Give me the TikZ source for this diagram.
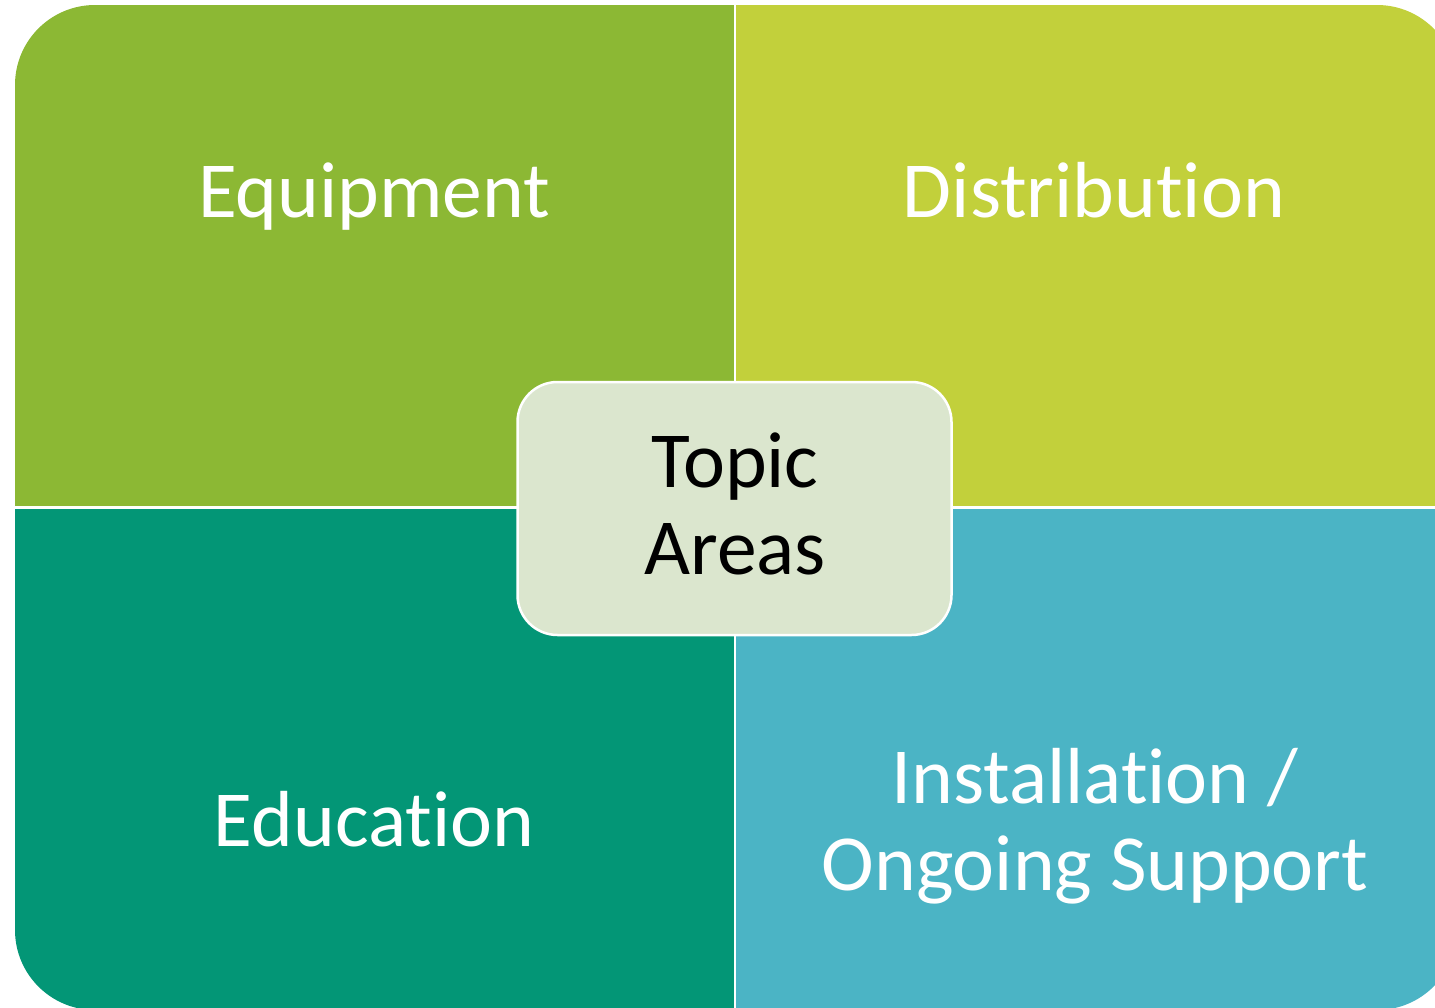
\documentclass[tikz,border=0pt]{standalone}
\usepackage{fontspec}
\setmainfont{Carlito}[Ligatures={NoCommon}]
\definecolor{cEquip}{HTML}{8CB834}
\definecolor{cDist}{HTML}{C2D03B}
\definecolor{cEdu}{HTML}{039676}
\definecolor{cInst}{HTML}{4BB4C5}
\definecolor{cCenter}{HTML}{DBE6CE}
\begin{document}
\begin{tikzpicture}[x=1pt,y=-1pt,
  lbl/.style={text=white,font=\fontsize{79.5}{87}\selectfont,align=center,inner sep=0pt,anchor=base},
  quad/.style={rounded corners=80pt}]
\useasboundingbox (0,0) rectangle (1435,1007);
\clip (0,0) rectangle (1435,1007);
\begin{scope}
  \clip (0,0) rectangle (735,507);
  \fill[cEquip,quad] (15,5) rectangle (1457,1010);
\end{scope}
\begin{scope}
  \clip (735,0) rectangle (1500,507);
  \fill[cDist,quad] (15,5) rectangle (1457,1010);
\end{scope}
\begin{scope}
  \clip (0,507) rectangle (735,1100);
  \fill[cEdu,quad] (15,5) rectangle (1457,1010);
\end{scope}
\begin{scope}
  \clip (735,507) rectangle (1500,1100);
  \fill[cInst,quad] (15,5) rectangle (1457,1010);
\end{scope}
\draw[white,line width=2.5pt] (735,0) -- (735,1010);
\draw[white,line width=2.5pt] (0,507.5) -- (1460,507.5);
\node[lbl] (equip) at (374,217) {Equipment};
\node[lbl] (dist) at (1094,217) {Distribution};
\node[lbl] (edu) at (374,846) {Education};
\node[lbl] (inst) at (1095,890) {Installation /\\Ongoing Support};
\node[draw=white,line width=2.5pt,fill=cCenter,rounded corners=40pt,
  minimum width=434pt,minimum height=253pt,inner sep=0pt] (center) at (734.5,508.5) {};
\node[font=\fontsize{79.5}{87}\selectfont,align=center,inner sep=0pt,anchor=base,text=black] (topic) at (735,574) {Topic\\Areas};
\end{tikzpicture}
\end{document}
